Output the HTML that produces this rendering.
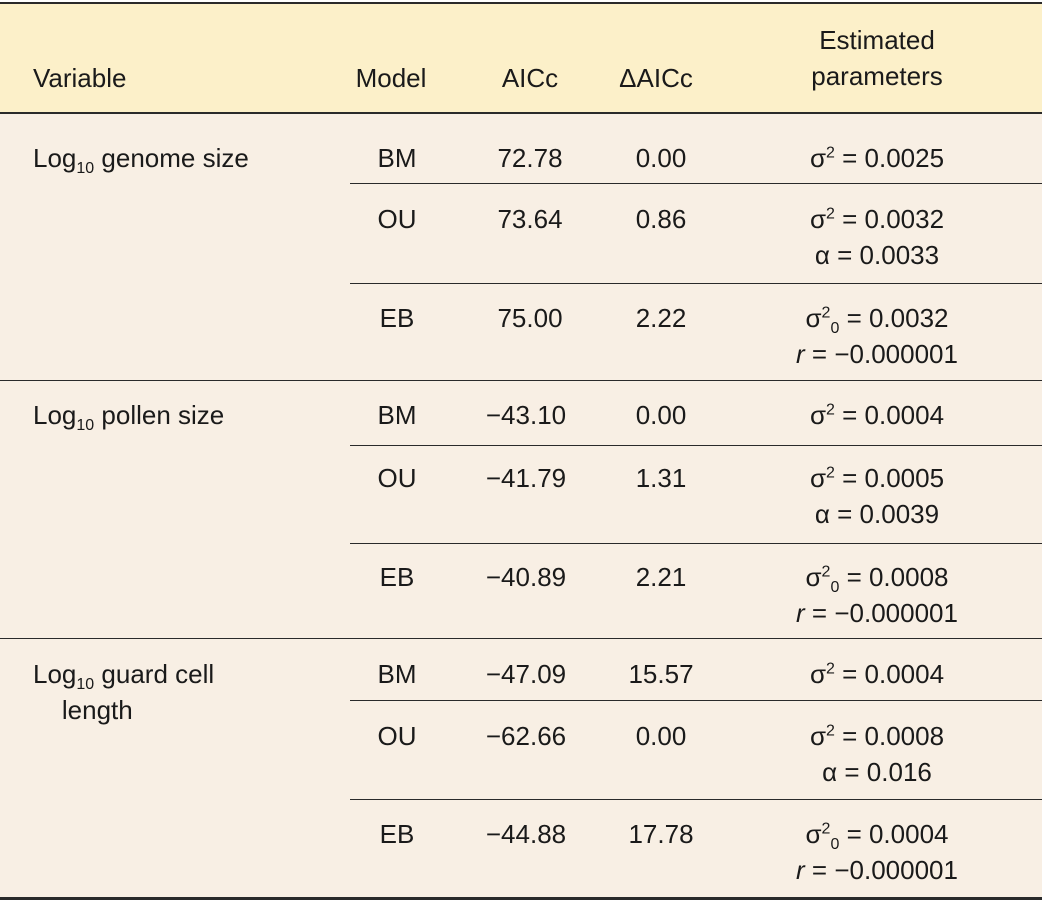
<!DOCTYPE html>
<html><head><meta charset="utf-8"><style>
body{margin:0;width:1042px;height:903px;background:#fff;position:relative;overflow:hidden;font-family:"Liberation Sans",sans-serif;font-size:26px;color:#1a1a1a}
.a{position:absolute}
.t{position:absolute;white-space:nowrap;line-height:36px}
.c{transform:translateX(-50%);text-align:center}
.ln{position:absolute;background:#2a2a2a}
sub,sup{font-size:16px;line-height:0}
</style></head><body>
<div class="a" style="left:0;top:4px;width:1042px;height:109px;background:#fcf0c9"></div>
<div class="a" style="left:0;top:114px;width:1042px;height:784px;background:#f8efe4"></div>
<div class="ln" style="left:0;top:2px;width:1042px;height:2px"></div>
<div class="ln" style="left:0;top:112px;width:1042px;height:2px"></div>
<div class="ln" style="left:0;top:897px;width:1042px;height:3px"></div>
<div class="ln" style="left:0;top:380px;width:1042px;height:1px"></div>
<div class="ln" style="left:0;top:638px;width:1042px;height:1px"></div>
<div class="ln" style="left:350px;top:183px;width:692px;height:1px"></div>
<div class="ln" style="left:350px;top:283px;width:692px;height:1px"></div>
<div class="ln" style="left:350px;top:445px;width:692px;height:1px"></div>
<div class="ln" style="left:350px;top:543px;width:692px;height:1px"></div>
<div class="ln" style="left:350px;top:700px;width:692px;height:1px"></div>
<div class="ln" style="left:350px;top:799px;width:692px;height:1px"></div>

<div class="t" style="left:33px;top:60px">Variable</div>
<div class="t c" style="left:391px;top:60px">Model</div>
<div class="t c" style="left:530px;top:60px">AICc</div>
<div class="t c" style="left:656px;top:60px">ΔAICc</div>
<div class="t c" style="left:877px;top:22px">Estimated<br>parameters</div>

<div class="t" style="left:33px;top:140px">Log<sub>10</sub> genome size</div>
<div class="t" style="left:33px;top:397px">Log<sub>10</sub> pollen size</div>
<div class="t" style="left:33px;top:656px">Log<sub>10</sub> guard cell<br>&nbsp;&nbsp;&nbsp;&nbsp;length</div>

<!-- genome -->
<div class="t c" style="left:397px;top:140px">BM</div>
<div class="t c" style="left:530px;top:140px">72.78</div>
<div class="t c" style="left:661px;top:140px">0.00</div>
<div class="t c" style="left:877px;top:140px">σ<sup>2</sup> = 0.0025</div>

<div class="t c" style="left:397px;top:201px">OU</div>
<div class="t c" style="left:530px;top:201px">73.64</div>
<div class="t c" style="left:661px;top:201px">0.86</div>
<div class="t c" style="left:877px;top:201px">σ<sup>2</sup> = 0.0032<br>α = 0.0033</div>

<div class="t c" style="left:397px;top:300px">EB</div>
<div class="t c" style="left:530px;top:300px">75.00</div>
<div class="t c" style="left:661px;top:300px">2.22</div>
<div class="t c" style="left:877px;top:300px">σ<sup>2</sup><sub>0</sub> = 0.0032<br><i>r</i> = −0.000001</div>

<!-- pollen -->
<div class="t c" style="left:397px;top:397px">BM</div>
<div class="t c" style="left:526px;top:397px">−43.10</div>
<div class="t c" style="left:661px;top:397px">0.00</div>
<div class="t c" style="left:877px;top:397px">σ<sup>2</sup> = 0.0004</div>

<div class="t c" style="left:397px;top:460px">OU</div>
<div class="t c" style="left:526px;top:460px">−41.79</div>
<div class="t c" style="left:661px;top:460px">1.31</div>
<div class="t c" style="left:877px;top:460px">σ<sup>2</sup> = 0.0005<br>α = 0.0039</div>

<div class="t c" style="left:397px;top:559px">EB</div>
<div class="t c" style="left:526px;top:559px">−40.89</div>
<div class="t c" style="left:661px;top:559px">2.21</div>
<div class="t c" style="left:877px;top:559px">σ<sup>2</sup><sub>0</sub> = 0.0008<br><i>r</i> = −0.000001</div>

<!-- guard -->
<div class="t c" style="left:397px;top:656px">BM</div>
<div class="t c" style="left:526px;top:656px">−47.09</div>
<div class="t c" style="left:661px;top:656px">15.57</div>
<div class="t c" style="left:877px;top:656px">σ<sup>2</sup> = 0.0004</div>

<div class="t c" style="left:397px;top:718px">OU</div>
<div class="t c" style="left:526px;top:718px">−62.66</div>
<div class="t c" style="left:661px;top:718px">0.00</div>
<div class="t c" style="left:877px;top:718px">σ<sup>2</sup> = 0.0008<br>α = 0.016</div>

<div class="t c" style="left:397px;top:816px">EB</div>
<div class="t c" style="left:526px;top:816px">−44.88</div>
<div class="t c" style="left:661px;top:816px">17.78</div>
<div class="t c" style="left:877px;top:816px">σ<sup>2</sup><sub>0</sub> = 0.0004<br><i>r</i> = −0.000001</div>
</body></html>
